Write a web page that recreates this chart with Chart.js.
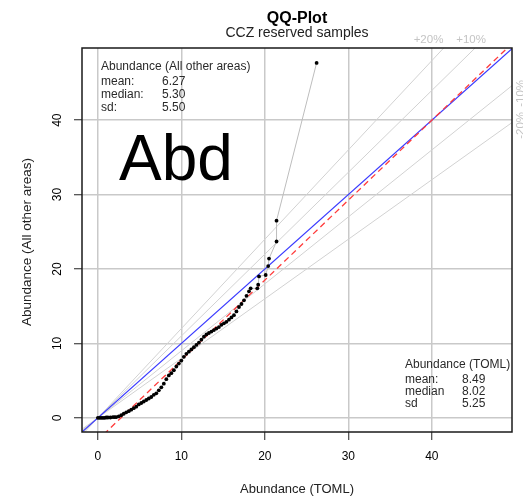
<!DOCTYPE html>
<html>
<head>
<meta charset="utf-8">
<title>QQ-Plot</title>
<script src="https://cdn.jsdelivr.net/npm/chart.js@4.4.1/dist/chart.umd.min.js"></script>
<style>
  html, body { margin: 0; padding: 0; background: #ffffff; }
  #qqChart { display: block; }
</style>
</head>
<body>
<canvas id="qqChart" width="523" height="497"></canvas>
<script>
// ====================================
// DATA
// ====================================
// sorted quantiles, TOML on x, all other areas on y
const tomlQ = [
  0, 0.2, 0.4, 0.6, 0.8, 1.0, 1.2, 1.5, 1.8, 2.0, 2.2, 2.5, 2.8, 3.1, 3.4,
  3.7, 4.0, 4.3, 4.6, 4.9, 5.2, 5.5, 5.8, 6.1, 6.4, 6.7, 7.0, 7.3, 7.6, 7.9,
  8.2, 8.5, 8.8, 9.1, 9.4, 9.7, 10.0, 10.3, 10.6, 10.9, 11.2, 11.5, 11.8,
  12.1, 12.4, 12.7, 13.0, 13.3, 13.6, 13.9, 14.2, 14.5, 14.8, 15.1, 15.4,
  15.7, 16.0, 16.3, 16.6, 16.9, 17.2, 17.5, 17.8, 18.1, 18.3, 19.1, 19.2,
  19.3, 20.1, 20.4, 20.5, 21.4, 21.4, 26.2
];
const otherQ = [
  0, 0, 0, 0, 0, 0.05, 0.05, 0.05, 0.1, 0.1, 0.1, 0.2, 0.35, 0.55, 0.75,
  0.9, 1.1, 1.3, 1.5, 1.8, 2.0, 2.2, 2.4, 2.6, 2.8, 3.1, 3.3, 3.7, 4.1, 4.6,
  5.2, 5.7, 6.0, 6.4, 6.9, 7.3, 7.7, 8.2, 8.6, 8.9, 9.2, 9.5, 9.8,
  10.1, 10.5, 10.9, 11.2, 11.4, 11.6, 11.8, 12.0, 12.2, 12.5, 12.7, 12.9,
  13.2, 13.5, 13.8, 14.3, 14.9, 15.3, 15.8, 16.4, 17.0, 17.4, 17.4, 17.9,
  19.0, 19.2, 20.4, 21.4, 23.7, 26.5, 47.7
];

// tick labels
const xTicks = [0, 10, 20, 30, 40];
const yTicks = [0, 10, 20, 30, 40];

// +/- percentage reference lines through the origin
const fanSlopes = [1.2, 1.1, 0.9, 0.8];
const fanLabels = ["+20%", "+10%", "-10%", "-20%"];
const fanLabelPos = [39.6, 44.7, 43.6, 39.3];

// qq line (red dashed)
const qqIntercept = -2.97;
const qqSlope = 1.074;

// summary boxes
const otherStatsTitle = "Abundance (All other areas)";
const otherStatsNames = ["mean:", "median:", "sd:"];
const otherStatsValues = ["6.27", "5.30", "5.50"];
const tomlStatsTitle = "Abundance (TOML)";
const tomlStatsNames = ["mean:", "median", "sd"];
const tomlStatsValues = ["8.49", "8.02", "5.25"];

const xMin = -1.9, xMax = 49.6;
const yMin = -1.9, yMax = 49.7;

const FONT = "'Liberation Sans', Arial, sans-serif";

// ====================================
// DATASETS
// ====================================
const qqPoints = tomlQ.map(function (x, i) {
  return { x: x, y: otherQ[i] };
});

function refLine(intercept, slope) {
  return [
    { x: xMin, y: intercept + slope * xMin },
    { x: xMax, y: intercept + slope * xMax },
  ];
}

const datasets = [
  {
    label: "QQ",
    data: qqPoints,
    showLine: true,
    borderColor: "#bdbdbd",
    borderWidth: 1,
    pointRadius: 1.9,
    pointBackgroundColor: "#000000",
    pointBorderColor: "#000000",
    pointBorderWidth: 0,
    order: 0,
  },
  {
    label: "qqline",
    data: refLine(qqIntercept, qqSlope),
    showLine: true,
    borderColor: "#ff3b3b",
    borderWidth: 1.3,
    borderDash: [6, 4],
    pointRadius: 0,
    order: 1,
  },
  {
    label: "identity",
    data: refLine(0, 1),
    showLine: true,
    borderColor: "#3a3aff",
    borderWidth: 1.2,
    pointRadius: 0,
    order: 2,
  },
];

fanSlopes.forEach(function (k, i) {
  datasets.push({
    label: fanLabels[i],
    data: refLine(0, k),
    showLine: true,
    borderColor: "#d2d2d2",
    borderWidth: 1,
    pointRadius: 0,
    order: 3,
  });
});

// ====================================
// TEXT / FRAME PLUGIN
// ====================================
const decorations = {
  id: "decorations",
  afterDraw: function (chart) {
    const ctx = chart.ctx;
    const area = chart.chartArea;
    const xs = chart.scales.x;
    const ys = chart.scales.y;
    const cx = (area.left + area.right) / 2;

    ctx.save();

    // plot frame
    ctx.strokeStyle = "#1a1a1a";
    ctx.lineWidth = 1.5;
    ctx.strokeRect(area.left, area.top, area.right - area.left, area.bottom - area.top);

    // titles
    ctx.fillStyle = "#000000";
    ctx.textAlign = "center";
    ctx.textBaseline = "middle";
    ctx.font = "bold 16px " + FONT;
    ctx.fillText("QQ-Plot", cx, 19);
    ctx.font = "14px " + FONT;
    ctx.fillStyle = "#222222";
    ctx.fillText("CCZ reserved samples", cx, 33);

    // tick labels
    ctx.font = "12px " + FONT;
    ctx.fillStyle = "#000000";
    xTicks.forEach(function (t) {
      ctx.fillText(String(t), xs.getPixelForValue(t), 457);
    });
    yTicks.forEach(function (t) {
      ctx.save();
      ctx.translate(58, ys.getPixelForValue(t));
      ctx.rotate(-Math.PI / 2);
      ctx.fillText(String(t), 0, 0);
      ctx.restore();
    });

    // axis titles
    ctx.fillStyle = "#222222";
    ctx.font = "13px " + FONT;
    ctx.fillText("Abundance (TOML)", cx, 489);
    ctx.save();
    ctx.translate(27, 242);
    ctx.rotate(-Math.PI / 2);
    ctx.font = "13.5px " + FONT;
    ctx.fillText("Abundance (All other areas)", 0, 0);
    ctx.restore();

    // percentage labels
    ctx.font = "11.5px " + FONT;
    ctx.fillStyle = "#c4c4c4";
    fanSlopes.forEach(function (k, i) {
      if (k > 1) {
        ctx.fillText(fanLabels[i], xs.getPixelForValue(fanLabelPos[i]), 40);
      } else {
        ctx.save();
        ctx.translate(521, ys.getPixelForValue(fanLabelPos[i]));
        ctx.rotate(-Math.PI / 2);
        ctx.fillText(fanLabels[i], 0, 0);
        ctx.restore();
      }
    });

    // summary boxes
    ctx.textAlign = "left";
    ctx.fillStyle = "#2a2a2a";
    ctx.font = "12px " + FONT;
    ctx.fillText(otherStatsTitle, 101, 67);
    const leftRows = [82, 95, 108];
    otherStatsNames.forEach(function (n, i) {
      ctx.fillText(n, 101, leftRows[i]);
      ctx.fillText(otherStatsValues[i], 162, leftRows[i]);
    });
    ctx.fillText(tomlStatsTitle, 405, 365);
    const rightRows = [380, 392, 404];
    tomlStatsNames.forEach(function (n, i) {
      ctx.fillText(n, 405, rightRows[i]);
      ctx.fillText(tomlStatsValues[i], 462, rightRows[i]);
    });

    // big label
    ctx.fillStyle = "#000000";
    ctx.font = "64px " + FONT;
    ctx.textBaseline = "alphabetic";
    ctx.fillText("Abd", 119, 180);

    ctx.restore();
  },
};

// ====================================
// CHART
// ====================================
const gridStyle = {
  color: "#c9c9c9",
  lineWidth: 1.5,
  drawTicks: true,
  tickLength: 8,
  tickColor: "#222222",
  tickWidth: 1,
};

new Chart(document.getElementById("qqChart").getContext("2d"), {
  type: "scatter",
  data: { datasets: datasets },
  options: {
    responsive: false,
    animation: false,
    devicePixelRatio: 1,
    layout: { padding: { left: 74, top: 48, right: 11, bottom: 57 } },
    plugins: {
      legend: { display: false },
      tooltip: { enabled: false },
      title: { display: false },
    },
    scales: {
      x: {
        type: "linear",
        min: xMin,
        max: xMax,
        border: { display: false },
        grid: gridStyle,
        ticks: { display: false, stepSize: 10, includeBounds: false },
      },
      y: {
        type: "linear",
        min: yMin,
        max: yMax,
        border: { display: false },
        grid: gridStyle,
        ticks: { display: false, stepSize: 10, includeBounds: false },
      },
    },
  },
  plugins: [decorations],
});
</script>
</body>
</html>
